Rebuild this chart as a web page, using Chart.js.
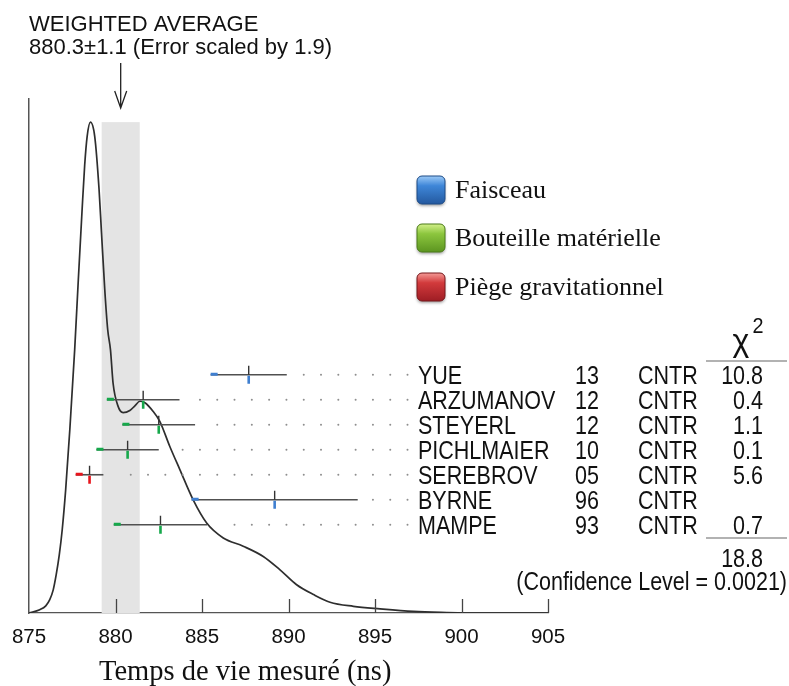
<!DOCTYPE html>
<html lang="fr">
<head>
<meta charset="utf-8">
<title>Temps de vie du neutron</title>
<script src="https://cdn.jsdelivr.net/npm/chart.js@4.4.1/dist/chart.umd.min.js"></script>
<style>
  html, body { margin: 0; padding: 0; background: #fff; }
  #cadre { position: relative; width: 789px; height: 686px; }
</style>
</head>
<body>
<div id="cadre"><canvas id="grafico"></canvas></div>
<script>
// mesures (ns)
const noms = ['YUE', 'ARZUMANOV', 'STEYERL', 'PICHLMAIER', 'SEREBROV', 'BYRNE', 'MAMPE'];
const annees = ['13', '12', '12', '10', '05', '96', '93'];
const techniques = ['CNTR', 'CNTR', 'CNTR', 'CNTR', 'CNTR', 'CNTR', 'CNTR'];
const valeurs = [887.7, 881.6, 882.5, 880.7, 878.5, 889.2, 882.6];
const erreurs = [2.2, 2.1, 2.1, 1.8, 0.8, 4.8, 2.7];
const methodes = ['faisceau', 'bouteille', 'bouteille', 'bouteille', 'piege', 'faisceau', 'bouteille'];
const chi2 = ['10.8', '0.4', '1.1', '0.1', '5.6', '', '0.7'];
const chi2Total = '18.8';
const niveauConfiance = '0.0021';

// moyenne pondérée
const moyenne = 880.3;
const moyenneErr = 1.1;
const facteurErr = 1.9;

// idéogramme (densité relative)
const courbeX = [875.0, 875.62, 875.97, 876.2, 876.4, 876.57, 876.75, 876.92, 877.12, 877.36,
  877.64, 877.85, 878.07, 878.22, 878.36, 878.55, 878.8, 879.05, 879.19, 879.38,
  879.55, 879.71, 879.86, 880.15, 880.44, 880.83, 881.12, 881.41, 881.7, 882.18,
  882.56, 883.14, 883.72, 884.49, 885.27, 886.23, 887.38, 888.54, 889.51, 890.47,
  891.44, 892.4, 893.75, 895.29, 897.22, 899.16, 901.08, 905.0];
const courbeY = [0, 0.64, 1.4, 2.6, 4.5, 7.4, 11.3, 16.2, 24.0, 35.7,
  51.2, 64.8, 78.5, 87.2, 92.7, 95.5, 92.7, 82.4, 74.0, 62.9,
  55.1, 51.2, 44.7, 40.2, 39.0, 39.4, 40.3, 41.2, 40.9, 39.2,
  37.3, 32.4, 27.9, 22.0, 17.5, 14.6, 13.0, 11.0, 8.4, 5.5,
  3.6, 2.1, 1.3, 0.8, 0.3, 0.1, 0, 0];

const legende = [
  { cle: 'faisceau', texte: 'Faisceau' },
  { cle: 'bouteille', texte: 'Bouteille matérielle' },
  { cle: 'piege', texte: 'Piège gravitationnel' }
];

const couleurs = { faisceau: '#3f7fd0', bouteille: '#16a84b', piege: '#e8141c' };
const brillants = {
  faisceau: ['#9ccaf7', '#3e86d8', '#24599f', '#1d4b86'],
  bouteille: ['#d3f08a', '#8cc63e', '#5c9520', '#4a7a18'],
  piege: ['#f49a96', '#d23a3c', '#9e1d24', '#76171b']
};

const sans = '"Liberation Sans", Arial, Helvetica, sans-serif';
const serif = '"Liberation Serif", "Times New Roman", serif';

function texte(ctx, txt, x, y, taille, align, sx, police) {
  ctx.save();
  ctx.font = taille + 'px ' + (police || sans);
  ctx.translate(x, y);
  ctx.scale(sx || 1, 1);
  ctx.textAlign = align || 'left';
  ctx.textBaseline = 'alphabetic';
  ctx.fillStyle = '#111';
  ctx.fillText(txt, 0, 0);
  ctx.restore();
}

function boite(ctx, x, y, s, c) {
  ctx.save();
  ctx.shadowColor = 'rgba(0,0,0,0.35)';
  ctx.shadowBlur = 3;
  ctx.shadowOffsetY = 2;
  const g = ctx.createLinearGradient(0, y, 0, y + s);
  g.addColorStop(0, c[0]);
  g.addColorStop(0.35, c[1]);
  g.addColorStop(1, c[2]);
  ctx.beginPath();
  ctx.roundRect(x, y, s, s, 5);
  ctx.fillStyle = g;
  ctx.fill();
  ctx.shadowColor = 'transparent';
  ctx.lineWidth = 1;
  ctx.strokeStyle = c[3];
  ctx.stroke();
  ctx.restore();
}

const bandeMoyenne = {
  id: 'bandeMoyenne',
  beforeDatasetsDraw(chart) {
    const { ctx, scales: { x, y } } = chart;
    const x0 = x.getPixelForValue(moyenne - moyenneErr);
    const x1 = x.getPixelForValue(moyenne + moyenneErr);
    const haut = y.getPixelForValue(Math.max(...courbeY));
    ctx.save();
    ctx.fillStyle = '#e4e4e4';
    ctx.fillRect(x0, haut, x1 - x0, y.getPixelForValue(0) - haut);
    ctx.restore();
  }
};

const ideogramme = {
  id: 'ideogramme',
  afterDraw(chart) {
    const { ctx, chartArea, scales: { x, y, yRow } } = chart;
    ctx.save();

    // graduations vers l'intérieur
    ctx.strokeStyle = '#444';
    ctx.lineWidth = 1.3;
    x.ticks.forEach(t => {
      if (t.value === x.min) return;
      const px = Math.round(x.getPixelForValue(t.value)) + 0.5;
      ctx.beginPath();
      ctx.moveTo(px, chartArea.bottom);
      ctx.lineTo(px, chartArea.bottom - 14);
      ctx.stroke();
    });

    // barres d'erreur et pointillés
    valeurs.forEach((v, i) => {
      const py = yRow.getPixelForValue(i);
      const e = erreurs[i];
      const xa = x.getPixelForValue(v - e);
      const xb = x.getPixelForValue(v + e);
      const xc = x.getPixelForValue(v);
      const coul = couleurs[methodes[i]];

      ctx.fillStyle = '#8e8e8e';
      let d = Math.ceil(v + e + 0.6 + 0.12) - 0.12;
      if (d - 1 >= v + e + 0.6) d -= 1;
      for (; d <= 897; d += 1) {
        ctx.beginPath();
        ctx.arc(x.getPixelForValue(d), py, 1, 0, Math.PI * 2);
        ctx.fill();
      }

      ctx.strokeStyle = '#505050';
      ctx.lineWidth = 1.6;
      ctx.beginPath();
      ctx.moveTo(xa, py);
      ctx.lineTo(xb, py);
      ctx.stroke();

      ctx.strokeStyle = '#333';
      ctx.lineWidth = 1.4;
      ctx.beginPath();
      ctx.moveTo(xc, py - 9);
      ctx.lineTo(xc, py);
      ctx.stroke();

      ctx.fillStyle = coul;
      ctx.fillRect(xc - 1.3, py + 1, 2.6, 8);
      ctx.fillRect(xa, py - 2, 7, 3);
    });

    // flèche de la moyenne
    const xm = x.getPixelForValue(moyenne);
    ctx.strokeStyle = '#222';
    ctx.lineWidth = 1.3;
    ctx.beginPath();
    ctx.moveTo(xm, 63);
    ctx.lineTo(xm, 108);
    ctx.moveTo(xm - 6, 91);
    ctx.lineTo(xm, 108);
    ctx.lineTo(xm + 6, 91);
    ctx.stroke();

    texte(ctx, 'WEIGHTED AVERAGE', 29, 31, 22);
    texte(ctx, moyenne + '±' + moyenneErr + ' (Error scaled by ' + facteurErr + ')', 29, 54, 22);

    // tableau
    const colNom = 418, colAn = 575, colTech = 638, colChi = 763;
    noms.forEach((n, i) => {
      const b = yRow.getPixelForValue(i) + 9;
      texte(ctx, n, colNom, b, 25, 'left', 0.86);
      texte(ctx, annees[i], colAn, b, 25, 'left', 0.86);
      texte(ctx, techniques[i], colTech, b, 25, 'left', 0.86);
      if (chi2[i]) texte(ctx, chi2[i], colChi, b, 25, 'right', 0.86);
    });
    texte(ctx, 'χ', 741, 351, 32, 'center');
    texte(ctx, '2', 758, 333, 22, 'center', 0.9);
    ctx.strokeStyle = '#666';
    ctx.lineWidth = 1.2;
    [361, 538].forEach(ly => {
      ctx.beginPath();
      ctx.moveTo(706, ly);
      ctx.lineTo(787, ly);
      ctx.stroke();
    });
    texte(ctx, chi2Total, colChi, 567, 25, 'right', 0.86);
    texte(ctx, '(Confidence Level = ' + niveauConfiance + ')', 787, 590, 25, 'right', 0.86);

    // légende
    legende.forEach((l, k) => {
      const cy = [190, 238, 287][k];
      boite(ctx, 417, cy - 14, 28, brillants[l.cle]);
      texte(ctx, l.texte, 455, cy + 8, 26, 'left', 1, serif);
    });

    texte(ctx, 'Temps de vie mesuré (ns)', 99, 680, 28.5, 'left', 1, serif);
    ctx.restore();
  }
};

const ctx = document.getElementById('grafico').getContext('2d');
const graphique = new Chart(ctx, {
  type: 'line',
  data: {
    datasets: [{
      label: 'Idéogramme',
      data: courbeX.map((v, i) => ({ x: v, y: courbeY[i] })),
      borderColor: '#2e2e2e',
      borderWidth: 1.7,
      pointRadius: 0,
      fill: false,
      cubicInterpolationMode: 'monotone',
      yAxisID: 'y'
    }]
  },
  options: {
    responsive: true,
    maintainAspectRatio: false,
    animation: false,
    layout: { padding: { left: 29, right: 241, top: 99, bottom: 33 } },
    plugins: { legend: { display: false }, tooltip: { enabled: false } },
    scales: {
      x: {
        type: 'linear',
        min: 875,
        max: 905,
        afterFit: (s) => { s.height = 40; },
        grid: { display: false },
        border: { display: true, color: '#555', width: 1.3 },
        ticks: { stepSize: 5, padding: 4, color: '#111', font: { family: sans, size: 20.5 } }
      },
      y: {
        min: 0,
        max: 100,
        afterFit: (s) => { s.width = 0; },
        grid: { display: false },
        border: { display: true, color: '#555', width: 1.5 },
        ticks: { display: false }
      },
      yRow: {
        type: 'linear',
        display: false,
        reverse: true,
        min: -11.03,
        max: 9.53
      }
    }
  },
  plugins: [bandeMoyenne, ideogramme]
});
</script>
</body>
</html>
